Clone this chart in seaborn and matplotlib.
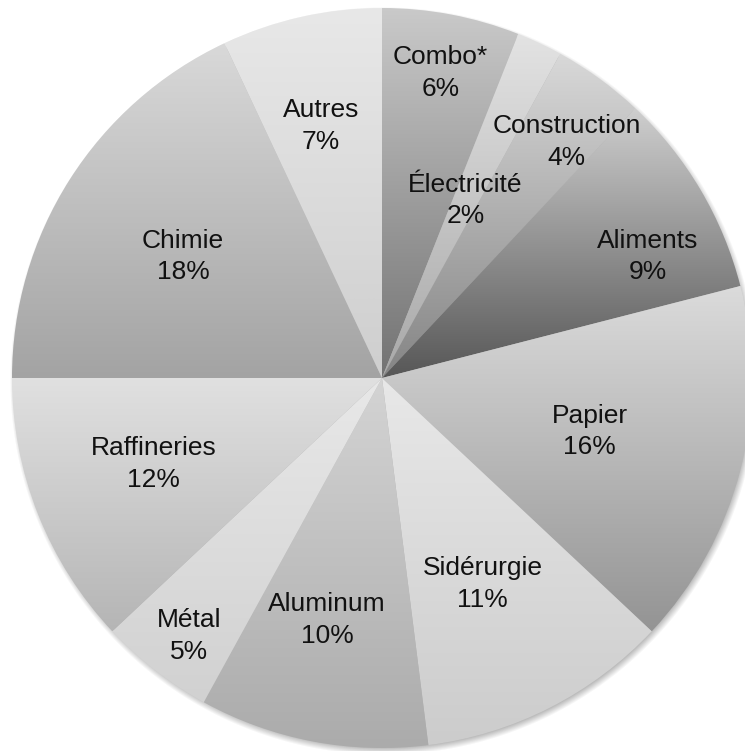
import numpy as np
import matplotlib
matplotlib.use("Agg")
import matplotlib.pyplot as plt
import seaborn as sns

# Répartition par secteur industriel (%)
sectors = ["Combo*", "Électricité", "Construction", "Aliments", "Papier",
           "Sidérurgie", "Aluminum", "Métal", "Raffineries", "Chimie", "Autres"]
shares = [6, 2, 4, 9, 16, 11, 10, 5, 12, 18, 7]

# Vertical gradient of each slice: gray level at its top and at its bottom
top_gray = [0.79, 0.89, 0.85, 0.81, 0.86, 0.91, 0.83, 0.91, 0.88, 0.85, 0.91]
bottom_gray = [0.45, 0.66, 0.52, 0.34, 0.58, 0.80, 0.67, 0.82, 0.71, 0.64, 0.81]

# Label placement: fraction of the radius, and clockwise turn from the slice middle (deg)
label_radius = [0.84, 0.53, 0.81, 0.79, 0.58, 0.62, 0.67, 0.87, 0.66, 0.63, 0.70]
label_turn = [0, 0, 2, 6, 0, 1, 2, -1, 1, -1, -1]

W, H = 745, 751
cx, cy, R = 382, H - 378, 370

sns.set_theme(style="white")
plt.rcParams["font.family"] = ["Liberation Sans", "DejaVu Sans"]

fig = plt.figure(figsize=(W / 100, H / 100), dpi=100)
ax = fig.add_axes([0, 0, 1, 1])

# soft drop shadow below the disc
yy, xx = np.mgrid[0:H, 0:W]
d = np.hypot(xx + 0.5 - (cx + 2), (H - yy - 0.5) - (cy - 3))
alpha = 0.45 * np.clip((R + 4 - d) / 8.0, 0, 1)
shadow = np.zeros((H, W, 4))
shadow[..., :3] = 0.35
shadow[..., 3] = alpha
ax.imshow(shadow, extent=(0, W, 0, H), origin="upper", zorder=0,
          interpolation="bilinear", aspect="auto")

wedges, _ = ax.pie(shares, startangle=90, counterclock=False, radius=R,
                   center=(cx, cy), colors=["none"] * len(shares),
                   wedgeprops=dict(linewidth=0), frame=False)

for w, g0, g1 in zip(wedges, top_gray, bottom_gray):
    w.set_zorder(1)
    verts = w.get_path().vertices
    x0, y0 = verts.min(axis=0)
    x1, y1 = verts.max(axis=0)
    ramp = np.linspace(g0, g1, 256)
    img = np.repeat(ramp[:, None, None], 2, axis=1).repeat(3, axis=2)
    im = ax.imshow(img, extent=(x0, x1, y0, y1), origin="upper",
                   interpolation="bilinear", aspect="auto", zorder=2)
    im.set_clip_path(w)

for w, name, val, fr, turn in zip(wedges, sectors, shares, label_radius, label_turn):
    mid = np.deg2rad((w.theta1 + w.theta2) / 2 - turn)
    x = cx + fr * R * np.cos(mid)
    y = cy + fr * R * np.sin(mid)
    ax.text(x, y, f"{name}\n{val}%", ha="center", va="center",
            fontsize=19, color="#111111", linespacing=1.4, zorder=5)

ax.set_xlim(0, W)
ax.set_ylim(0, H)
ax.axis("off")

fig.savefig("out.png", dpi=100, facecolor="white")
